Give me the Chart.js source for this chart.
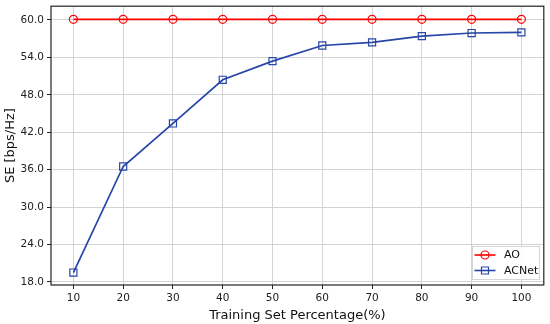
<!DOCTYPE html>
<html>
<head>
<meta charset="utf-8">
<script src="https://cdn.jsdelivr.net/npm/chart.js@4"></script>
<style>
  body { margin: 0; background: #fff; }
  canvas { display: block; }
</style>
</head>
<body>
<canvas id="seCanvas" width="550" height="324"></canvas>
<script>
const percentages = [10, 20, 30, 40, 50, 60, 70, 80, 90, 100];
const aoValues = [60.1, 60.1, 60.1, 60.1, 60.1, 60.1, 60.1, 60.1, 60.1, 60.1];
const acnetValues = [19.5, 36.5, 43.4, 50.4, 53.4, 55.9, 56.4, 57.4, 57.9, 58.0];
const yTicks = [18, 24, 30, 36, 42, 48, 54, 60];
const xTicks = [10, 20, 30, 40, 50, 60, 70, 80, 90, 100];

const FONT = "'DejaVu Sans', sans-serif";
const RED = "#ff0000";
const BLUE = "#2646a8";

// frame around the plot + matplotlib-style legend
const framePlugin = {
    id: "frame",
    afterDraw(chart) {
        const ctx = chart.ctx;
        const a = chart.chartArea;
        ctx.save();
        ctx.strokeStyle = "#222";
        ctx.lineWidth = 1.2;
        ctx.strokeRect(a.left, a.top, a.right - a.left, a.bottom - a.top);

        // legend box
        const bx = 472, by = 246, bw = 67, bh = 33;
        ctx.fillStyle = "rgba(255,255,255,0.85)";
        ctx.strokeStyle = "#d6d6d6";
        ctx.lineWidth = 1;
        ctx.fillRect(bx, by, bw, bh);
        ctx.strokeRect(bx + 0.5, by + 0.5, bw, bh);

        const items = [
            {label: "AO", color: RED, shape: "circle", y: 255},
            {label: "ACNet", color: BLUE, shape: "square", y: 270.5}
        ];
        ctx.font = "11px " + FONT;
        ctx.textBaseline = "middle";
        items.forEach(it => {
            ctx.strokeStyle = it.color;
            ctx.lineWidth = 1.6;
            ctx.beginPath();
            ctx.moveTo(474.5, it.y);
            ctx.lineTo(495.5, it.y);
            ctx.stroke();
            ctx.lineWidth = 1.2;
            ctx.beginPath();
            if (it.shape === "circle") {
                ctx.arc(485, it.y, 4, 0, Math.PI * 2);
            } else {
                ctx.rect(481.5, it.y - 3.5, 7, 7);
            }
            ctx.stroke();
            ctx.fillStyle = "#111";
            ctx.fillText(it.label, 504, it.y + 0.5);
        });
        ctx.restore();
    }
};

const seChart = new Chart(document.getElementById("seCanvas"), {
    type: "line",
    data: {
        datasets: [{
            label: "AO",
            data: percentages.map((p, i) => ({x: p, y: aoValues[i]})),
            borderColor: RED,
            borderWidth: 1.7,
            pointStyle: "circle",
            pointRadius: 4,
            pointBorderWidth: 1.2,
            pointBorderColor: RED,
            pointBackgroundColor: "transparent",
            tension: 0
        }, {
            label: "ACNet",
            data: percentages.map((p, i) => ({x: p, y: acnetValues[i]})),
            borderColor: BLUE,
            borderWidth: 1.7,
            pointStyle: "rect",
            pointRadius: 5,
            pointBorderWidth: 1.2,
            pointBorderColor: BLUE,
            pointBackgroundColor: "transparent",
            tension: 0
        }]
    },
    options: {
        responsive: false,
        animation: false,
        layout: {
            padding: {top: 5, right: 6, left: 3, bottom: 0}
        },
        plugins: {
            legend: {display: false},
            tooltip: {enabled: false}
        },
        scales: {
            x: {
                type: "linear",
                min: 5.5,
                max: 104.5,
                afterBuildTicks: s => { s.ticks = xTicks.map(v => ({value: v})); },
                afterFit: s => { s.height = 39; s.paddingLeft = 0; s.paddingRight = 0; },
                grid: {
                    color: "#d3d3d3",
                    lineWidth: 1,
                    tickLength: 4,
                    tickColor: "#222"
                },
                border: {display: false},
                ticks: {
                    color: "#222",
                    padding: 3,
                    font: {family: FONT, size: 10.5},
                    maxRotation: 0
                },
                title: {
                    display: true,
                    text: "Training Set Percentage(%)",
                    color: "#111",
                    font: {family: FONT, size: 13},
                    padding: {top: 0, bottom: 1}
                }
            },
            y: {
                type: "linear",
                min: 17.5,
                max: 62.2,
                afterBuildTicks: s => { s.ticks = yTicks.map(v => ({value: v})); },
                afterFit: s => { s.width = 48; s.paddingTop = 0; s.paddingBottom = 0; },
                grid: {
                    color: "#d3d3d3",
                    lineWidth: 1,
                    tickLength: 4,
                    tickColor: "#222"
                },
                border: {display: false},
                ticks: {
                    color: "#222",
                    padding: 3,
                    font: {family: FONT, size: 10.5},
                    callback: v => v.toFixed(1)
                },
                title: {
                    display: true,
                    text: "SE [bps/Hz]",
                    color: "#111",
                    font: {family: FONT, size: 13},
                    padding: {top: 0, bottom: 2}
                }
            }
        }
    },
    plugins: [framePlugin]
});
</script>
</body>
</html>
